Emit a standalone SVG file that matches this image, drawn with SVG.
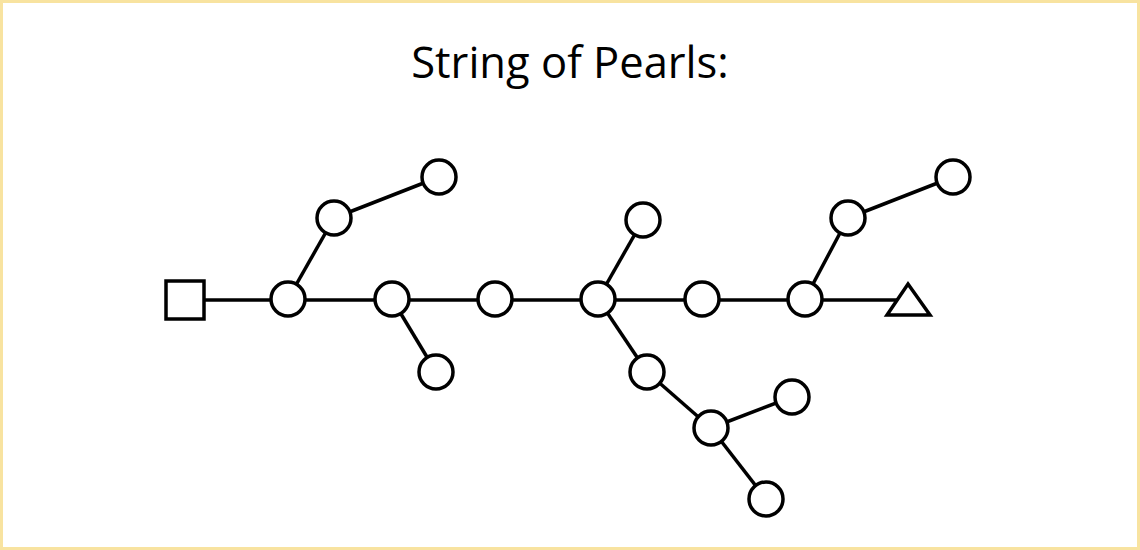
<svg xmlns="http://www.w3.org/2000/svg" width="1140" height="550" viewBox="0 0 1140 550">
<style>
.n{fill:#fff;stroke:#000;stroke-width:3.5}
.c line{stroke:#000;stroke-width:3.5}
.t{font-family:"Open Sans","Liberation Sans",sans-serif;font-size:43.5px;fill:#000}
</style>
<rect x="1.5" y="1.5" width="1137" height="547" fill="#fff" stroke="#f8e3a0" stroke-width="3"/>
<text class="t" x="570" y="78" text-anchor="middle">String of Pearls:</text>
<g class="c">
<line x1="185" y1="300" x2="909" y2="300"/>
<line x1="288" y1="299" x2="334" y2="218"/>
<line x1="334" y1="218" x2="439" y2="177"/>
<line x1="392" y1="299" x2="436" y2="372"/>
<line x1="598" y1="299" x2="643" y2="220"/>
<line x1="598" y1="299" x2="647" y2="372"/>
<line x1="647" y1="372" x2="711" y2="428"/>
<line x1="711" y1="428" x2="792" y2="397"/>
<line x1="711" y1="428" x2="766" y2="499"/>
<line x1="805" y1="299" x2="848" y2="218"/>
<line x1="848" y1="218" x2="953" y2="177"/>
</g>
<g id="start"><rect class="n" x="166" y="281" width="38" height="38"/></g>
<g id="n1"><circle class="n" cx="288" cy="299" r="17"/></g>
<g id="n1a"><circle class="n" cx="334" cy="218" r="17"/></g>
<g id="n1b"><circle class="n" cx="439" cy="177" r="17"/></g>
<g id="n2"><circle class="n" cx="392" cy="299" r="17"/></g>
<g id="n2a"><circle class="n" cx="436" cy="372" r="17"/></g>
<g id="n3"><circle class="n" cx="495" cy="299" r="17"/></g>
<g id="n4"><circle class="n" cx="598" cy="299" r="17"/></g>
<g id="n4a"><circle class="n" cx="643" cy="220" r="17"/></g>
<g id="n4b"><circle class="n" cx="647" cy="372" r="17"/></g>
<g id="n4c"><circle class="n" cx="711" cy="428" r="17"/></g>
<g id="n4d"><circle class="n" cx="792" cy="397" r="17"/></g>
<g id="n4e"><circle class="n" cx="766" cy="499" r="17"/></g>
<g id="n5"><circle class="n" cx="702" cy="299" r="17"/></g>
<g id="n6"><circle class="n" cx="805" cy="299" r="17"/></g>
<g id="n6a"><circle class="n" cx="848" cy="218" r="17"/></g>
<g id="n6b"><circle class="n" cx="953" cy="177" r="17"/></g>
<g id="end"><polygon class="n" points="908,284 930,315 887,315"/></g>
</svg>
